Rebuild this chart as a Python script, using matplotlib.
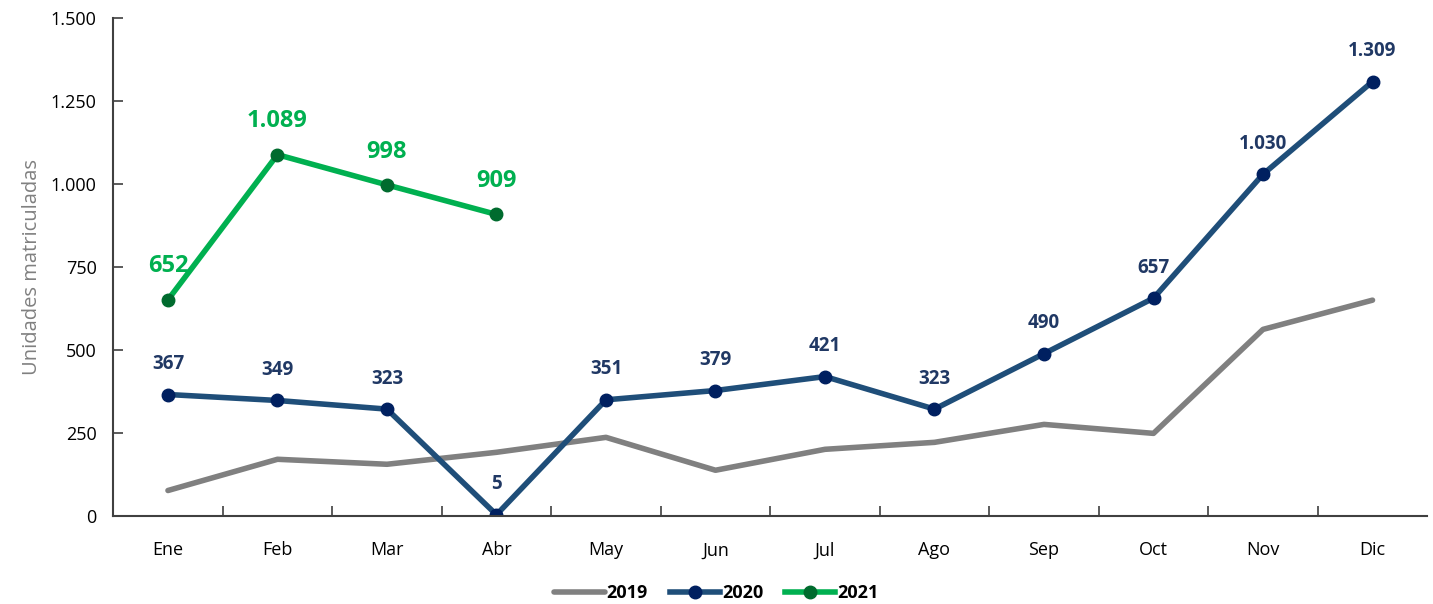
import matplotlib.pyplot as plt
import numpy as np

plt.rcParams['font.family'] = ['Open Sans', 'DejaVu Sans']

meses = ['Ene', 'Feb', 'Mar', 'Abr', 'May', 'Jun', 'Jul', 'Ago', 'Sep', 'Oct', 'Nov', 'Dic']
v2019 = [78, 172, 157, 193, 238, 139, 202, 223, 277, 250, 563, 651]
v2020 = [367, 349, 323, 5, 351, 379, 421, 323, 490, 657, 1030, 1309]
v2021 = [652, 1089, 998, 909]

def fmt(v):
    return '{:,}'.format(v).replace(',', '.')

fig = plt.figure(figsize=(14.33, 6.04), dpi=100)
ax = fig.add_axes([0.079, 0.145, 0.917, 0.825])

x = np.arange(len(meses))
ax.plot(x, v2019, color='#808080', lw=4, label='2019', solid_capstyle='round')
ax.plot(x, v2020, color='#1f4e79', lw=4, marker='o', ms=9,
        mfc='#002060', mec='#002060', label='2020')
ax.plot(x[:len(v2021)], v2021, color='#00b050', lw=4, marker='o', ms=9,
        mfc='#006b2e', mec='#006b2e', label='2021')

for i, v in enumerate(v2020):
    ax.annotate(fmt(v), (i, v), xytext=(0, 22), textcoords='offset points',
                ha='center', va='center', fontsize=13.5, fontweight='bold', color='#203864')
for i, v in enumerate(v2021):
    ax.annotate(fmt(v), (i, v), xytext=(0, 24), textcoords='offset points',
                ha='center', va='center', fontsize=17, fontweight='bold', color='#00b050')

ax.set_xlim(-0.5, 11.5)
ax.set_ylim(0, 1500)
ax.set_yticks(np.arange(0, 1501, 250))
ax.set_yticklabels([fmt(v) for v in range(0, 1501, 250)])
ax.set_xticks(x)
ax.set_xticklabels(meses)
ax.set_xticks(np.arange(0.5, 11, 1), minor=True)
ax.tick_params(axis='x', which='major', length=0, pad=18, labelsize=13)
ax.tick_params(axis='x', which='minor', length=7, direction='in', color='#404040', width=1.2)
ax.tick_params(axis='y', length=7, direction='in', color='#404040', width=1.2, labelsize=13, pad=12)

for s in ['top', 'right']:
    ax.spines[s].set_visible(False)
for s in ['left', 'bottom']:
    ax.spines[s].set_color('#404040')
    ax.spines[s].set_linewidth(1.5)

ax.set_ylabel('Unidades matriculadas', color='#808080', fontsize=14.5, labelpad=6)

fig.legend(loc='center', bbox_to_anchor=(0.5, 0.018), ncol=3, frameon=False,
           prop={'weight': 'bold', 'size': 13}, handlelength=2.8, columnspacing=1.2,
           handletextpad=0.1)

fig.savefig('out.png', dpi=100)
